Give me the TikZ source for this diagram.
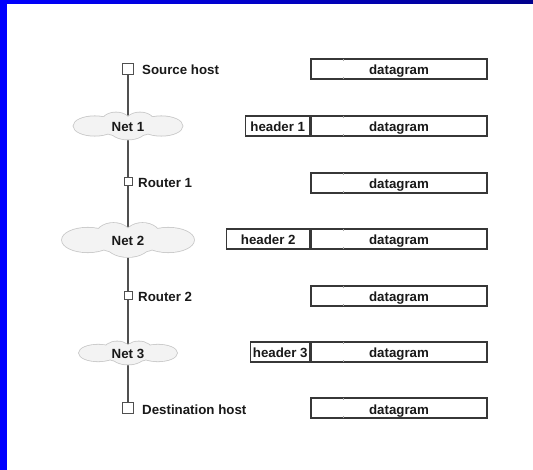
\documentclass[tikz,border=0pt]{standalone}
\usepackage{fontspec}
\setmainfont{Liberation Sans}
\usetikzlibrary{backgrounds}
\definecolor{bord}{RGB}{0,0,255}
\definecolor{bordend}{RGB}{0,0,140}
\definecolor{linec}{RGB}{80,80,80}
\definecolor{cloudfill}{RGB}{243,243,243}
\definecolor{cloudline}{RGB}{200,200,200}
\definecolor{boxline}{RGB}{55,55,55}
\definecolor{txtc}{RGB}{25,25,25}
\tikzset{
  cloudout/.style={draw=cloudline, line width=1.6pt},
  cloudin/.style={fill=cloudfill}
}
% cloud drawn round a point: #1 x, #2 y, #3 width, #4 height
\newcommand{\mycloud}[4]{%
  \begin{scope}[shift={(#1,#2)}]
    \foreach \opt in {cloudout,cloudin}{
      \path[\opt] (-0.305*#3,0) ellipse [x radius=0.195*#3, y radius=0.36*#4];
      \path[\opt] (0.305*#3,0) ellipse [x radius=0.195*#3, y radius=0.36*#4];
      \path[\opt] (-0.11*#3,-0.08*#4) ellipse [x radius=0.14*#3, y radius=0.42*#4];
      \path[\opt] (0.11*#3,-0.08*#4) ellipse [x radius=0.14*#3, y radius=0.42*#4];
      \path[\opt] (0,0.1*#4) ellipse [x radius=0.17*#3, y radius=0.4*#4];
    }
  \end{scope}}
\begin{document}
\begin{tikzpicture}[x=1pt,y=-1pt,
  font=\fontsize{13.3}{15}\selectfont\bfseries, text=txtc,
  txt/.style={text height=12pt, text depth=0pt},
  host/.style={draw=linec, fill=white, line width=1.2pt, minimum size=11pt, inner sep=0pt},
  router/.style={draw=linec, fill=white, line width=1pt, minimum size=8pt, inner sep=0pt},
  lbl/.style={txt, anchor=west, inner sep=0pt},
  dbox/.style={txt, draw=boxline, line width=1.2pt, minimum width=176pt, minimum height=20pt, inner sep=0pt},
  hbox/.style={txt, draw=boxline, line width=1.2pt, minimum height=20pt, inner sep=0pt, anchor=east},
  net/.style={txt, inner sep=0pt},
  tickmark/.style={draw=gray!70, line width=0.6pt}
]
\useasboundingbox (0,0) rectangle (533,470);
% clouds
\mycloud{128}{126}{109}{27}
\mycloud{128}{240}{132}{34}
\mycloud{128}{353}{98}{23}
\node[net, minimum width=109pt, minimum height=27pt] (n1) at (128,126) {Net 1};
\node[net, minimum width=132pt, minimum height=34pt] (n2) at (128,240) {Net 2};
\node[net, minimum width=98pt, minimum height=23pt] (n3) at (128,353) {Net 3};
% hosts and routers
\node[host] (src) at (128,69) {};
\node[router] (r1) at (128,182) {};
\node[router] (r2) at (128,296) {};
\node[host] (dst) at (128,408) {};
% labels
\node[lbl] (srcl) at (142,69) {Source host};
\node[lbl] (r1l) at (138,182) {Router 1};
\node[lbl] (r2l) at (138,296) {Router 2};
\node[lbl] (dstl) at (142,408) {Destination host};
% datagram boxes
\node[dbox] (d1) at (399,69) {datagram};
\node[dbox] (d2) at (399,126) {datagram};
\node[dbox] (d3) at (399,183) {datagram};
\node[dbox] (d4) at (399,239) {datagram};
\node[dbox] (d5) at (399,296) {datagram};
\node[dbox] (d6) at (399,352) {datagram};
\node[dbox] (d7) at (399,408) {datagram};
% headers
\node[hbox, minimum width=64pt] (h1) at (d2.west) {header 1};
\node[hbox, minimum width=83pt] (h2) at (d4.west) {header 2};
\node[hbox, minimum width=59pt] (h3) at (d6.west) {header 3};
% small tick marks
\foreach \d in {d1,d2,d3,d4,d5,d6,d7}{
  \draw[tickmark] ([xshift=-56pt,yshift=-0.6pt]\d.north) -- ([xshift=-56pt,yshift=-2.5pt]\d.north);
  \draw[tickmark] ([xshift=-56pt,yshift=0.6pt]\d.south) -- ([xshift=-56pt,yshift=2.5pt]\d.south);
}
\begin{pgfonlayer}{background}
  \fill[white] (0,0) rectangle (533,470);
  \draw[linec, line width=1.5pt] (src) -- (dst);
\end{pgfonlayer}
% frame
\fill[bord] (0,0) rectangle (7,470);
\shade[left color=bord, right color=bordend] (0,0) rectangle (533,4);
\end{tikzpicture}
\end{document}
